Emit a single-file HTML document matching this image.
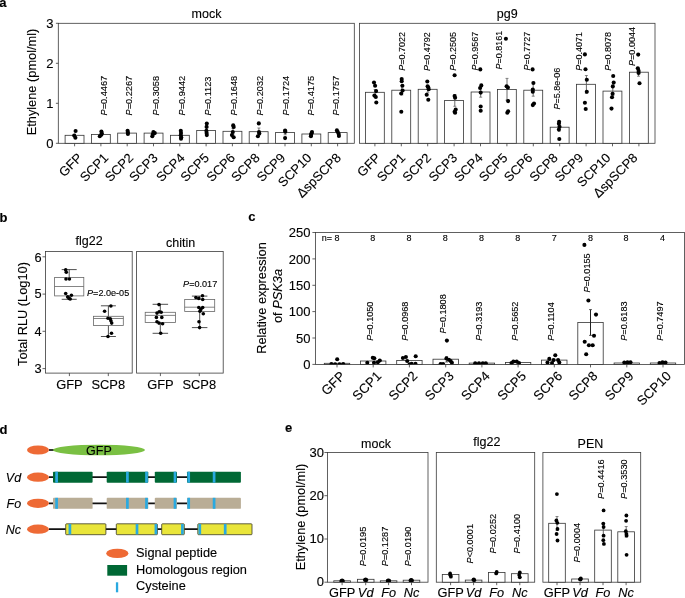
<!DOCTYPE html>
<html lang="en">
<head>
<meta charset="utf-8">
<title>Figure</title>
<style>
html,body{margin:0;padding:0;background:#fff;}
body{width:685px;height:598px;overflow:hidden;}
svg{display:block;font-family:"Liberation Sans",sans-serif;fill:#000;}
svg text{fill:#000;stroke:#000;stroke-width:0.12px;}
</style>
</head>
<body>
<svg width="685" height="598" viewBox="0 0 685 598" shape-rendering="auto">
<rect x="0" y="0" width="685" height="598" fill="#fff"/>
<text x="-0.7" y="7.0" font-size="13" text-anchor="start" font-weight="bold">a</text>
<rect x="58.3" y="23.3" width="296.0" height="120.0" fill="none" stroke="#3a3a3a" stroke-width="0.8"/>
<rect x="359.5" y="23.3" width="295.5" height="120.0" fill="none" stroke="#3a3a3a" stroke-width="0.8"/>
<line x1="55.9" y1="23.3" x2="58.3" y2="23.3" stroke="#3a3a3a" stroke-width="0.8"/>
<text x="53.6" y="27.9" font-size="13.0" text-anchor="end">3</text>
<line x1="55.9" y1="63.3" x2="58.3" y2="63.3" stroke="#3a3a3a" stroke-width="0.8"/>
<text x="53.6" y="67.9" font-size="13.0" text-anchor="end">2</text>
<line x1="55.9" y1="103.3" x2="58.3" y2="103.3" stroke="#3a3a3a" stroke-width="0.8"/>
<text x="53.6" y="107.9" font-size="13.0" text-anchor="end">1</text>
<line x1="55.9" y1="143.3" x2="58.3" y2="143.3" stroke="#3a3a3a" stroke-width="0.8"/>
<text x="53.6" y="147.9" font-size="13.0" text-anchor="end">0</text>
<text x="36.3" y="82.0" font-size="12.8" text-anchor="middle" transform="rotate(-90 36.3 82.0)">Ethylene (pmol/ml)</text>
<text x="206.5" y="18.3" font-size="12.5" text-anchor="middle">mock</text>
<text x="507.3" y="18.3" font-size="12.5" text-anchor="middle">pg9</text>
<rect x="65.1" y="135.3" width="18.9" height="8.0" fill="#fff" stroke="#333" stroke-width="0.8"/>
<line x1="74.6" y1="143.3" x2="74.6" y2="146.3" stroke="#3a3a3a" stroke-width="0.8"/>
<rect x="91.4" y="134.4" width="18.9" height="8.9" fill="#fff" stroke="#333" stroke-width="0.8"/>
<line x1="100.9" y1="143.3" x2="100.9" y2="146.3" stroke="#3a3a3a" stroke-width="0.8"/>
<rect x="117.7" y="133.1" width="18.9" height="10.2" fill="#fff" stroke="#333" stroke-width="0.8"/>
<line x1="127.2" y1="143.3" x2="127.2" y2="146.3" stroke="#3a3a3a" stroke-width="0.8"/>
<rect x="144.1" y="133.1" width="18.9" height="10.2" fill="#fff" stroke="#333" stroke-width="0.8"/>
<line x1="153.5" y1="143.3" x2="153.5" y2="146.3" stroke="#3a3a3a" stroke-width="0.8"/>
<rect x="170.4" y="135.3" width="18.9" height="8.0" fill="#fff" stroke="#333" stroke-width="0.8"/>
<line x1="179.8" y1="143.3" x2="179.8" y2="146.3" stroke="#3a3a3a" stroke-width="0.8"/>
<rect x="196.7" y="130.4" width="18.9" height="12.9" fill="#fff" stroke="#333" stroke-width="0.8"/>
<line x1="206.1" y1="143.3" x2="206.1" y2="146.3" stroke="#3a3a3a" stroke-width="0.8"/>
<rect x="223.0" y="131.3" width="18.9" height="12.0" fill="#fff" stroke="#333" stroke-width="0.8"/>
<line x1="232.4" y1="143.3" x2="232.4" y2="146.3" stroke="#3a3a3a" stroke-width="0.8"/>
<rect x="249.2" y="131.7" width="18.9" height="11.6" fill="#fff" stroke="#333" stroke-width="0.8"/>
<line x1="258.7" y1="143.3" x2="258.7" y2="146.3" stroke="#3a3a3a" stroke-width="0.8"/>
<rect x="275.6" y="132.4" width="18.9" height="10.9" fill="#fff" stroke="#333" stroke-width="0.8"/>
<line x1="285.0" y1="143.3" x2="285.0" y2="146.3" stroke="#3a3a3a" stroke-width="0.8"/>
<rect x="301.9" y="134.0" width="18.9" height="9.3" fill="#fff" stroke="#333" stroke-width="0.8"/>
<line x1="311.3" y1="143.3" x2="311.3" y2="146.3" stroke="#3a3a3a" stroke-width="0.8"/>
<rect x="328.2" y="132.6" width="18.9" height="10.7" fill="#fff" stroke="#333" stroke-width="0.8"/>
<line x1="337.6" y1="143.3" x2="337.6" y2="146.3" stroke="#3a3a3a" stroke-width="0.8"/>
<rect x="365.4" y="92.3" width="18.9" height="51.0" fill="#fff" stroke="#333" stroke-width="0.8"/>
<line x1="374.9" y1="143.3" x2="374.9" y2="146.3" stroke="#3a3a3a" stroke-width="0.8"/>
<rect x="391.8" y="90.2" width="18.9" height="53.1" fill="#fff" stroke="#333" stroke-width="0.8"/>
<line x1="401.3" y1="143.3" x2="401.3" y2="146.3" stroke="#3a3a3a" stroke-width="0.8"/>
<rect x="418.2" y="89.3" width="18.9" height="54.0" fill="#fff" stroke="#333" stroke-width="0.8"/>
<line x1="427.7" y1="143.3" x2="427.7" y2="146.3" stroke="#3a3a3a" stroke-width="0.8"/>
<rect x="444.6" y="100.4" width="18.9" height="42.9" fill="#fff" stroke="#333" stroke-width="0.8"/>
<line x1="454.1" y1="143.3" x2="454.1" y2="146.3" stroke="#3a3a3a" stroke-width="0.8"/>
<rect x="471.1" y="92.0" width="18.9" height="51.3" fill="#fff" stroke="#333" stroke-width="0.8"/>
<line x1="480.5" y1="143.3" x2="480.5" y2="146.3" stroke="#3a3a3a" stroke-width="0.8"/>
<rect x="497.4" y="89.4" width="18.9" height="53.9" fill="#fff" stroke="#333" stroke-width="0.8"/>
<line x1="506.9" y1="143.3" x2="506.9" y2="146.3" stroke="#3a3a3a" stroke-width="0.8"/>
<rect x="523.8" y="90.2" width="18.9" height="53.1" fill="#fff" stroke="#333" stroke-width="0.8"/>
<line x1="533.3" y1="143.3" x2="533.3" y2="146.3" stroke="#3a3a3a" stroke-width="0.8"/>
<rect x="550.2" y="127.2" width="18.9" height="16.1" fill="#fff" stroke="#333" stroke-width="0.8"/>
<line x1="559.7" y1="143.3" x2="559.7" y2="146.3" stroke="#3a3a3a" stroke-width="0.8"/>
<rect x="576.6" y="84.3" width="18.9" height="59.0" fill="#fff" stroke="#333" stroke-width="0.8"/>
<line x1="586.1" y1="143.3" x2="586.1" y2="146.3" stroke="#3a3a3a" stroke-width="0.8"/>
<rect x="603.0" y="91.1" width="18.9" height="52.2" fill="#fff" stroke="#333" stroke-width="0.8"/>
<line x1="612.5" y1="143.3" x2="612.5" y2="146.3" stroke="#3a3a3a" stroke-width="0.8"/>
<rect x="629.4" y="72.2" width="18.9" height="71.1" fill="#fff" stroke="#333" stroke-width="0.8"/>
<line x1="638.9" y1="143.3" x2="638.9" y2="146.3" stroke="#3a3a3a" stroke-width="0.8"/>
<text x="83.1" y="158.6" font-size="13.0" text-anchor="end" transform="rotate(-45 83.1 158.6)">GFP</text>
<text x="109.2" y="158.6" font-size="13.0" text-anchor="end" transform="rotate(-45 109.2 158.6)">SCP1</text>
<text x="134.2" y="158.6" font-size="13.0" text-anchor="end" transform="rotate(-45 134.2 158.6)">SCP2</text>
<text x="158.5" y="158.6" font-size="13.0" text-anchor="end" transform="rotate(-45 158.5 158.6)">SCP3</text>
<text x="185.5" y="158.6" font-size="13.0" text-anchor="end" transform="rotate(-45 185.5 158.6)">SCP4</text>
<text x="209.8" y="158.6" font-size="13.0" text-anchor="end" transform="rotate(-45 209.8 158.6)">SCP5</text>
<text x="235.9" y="158.6" font-size="13.0" text-anchor="end" transform="rotate(-45 235.9 158.6)">SCP6</text>
<text x="260.5" y="158.6" font-size="13.0" text-anchor="end" transform="rotate(-45 260.5 158.6)">SCP8</text>
<text x="286.1" y="158.6" font-size="13.0" text-anchor="end" transform="rotate(-45 286.1 158.6)">SCP9</text>
<text x="312.4" y="158.6" font-size="13.0" text-anchor="end" transform="rotate(-45 312.4 158.6)">SCP10</text>
<text x="341.8" y="158.6" font-size="13.0" text-anchor="end" transform="rotate(-45 341.8 158.6)">ΔspSCP8</text>
<text x="381.4" y="158.6" font-size="13.0" text-anchor="end" transform="rotate(-45 381.4 158.6)">GFP</text>
<text x="406.2" y="158.6" font-size="13.0" text-anchor="end" transform="rotate(-45 406.2 158.6)">SCP1</text>
<text x="431.9" y="158.6" font-size="13.0" text-anchor="end" transform="rotate(-45 431.9 158.6)">SCP2</text>
<text x="458.0" y="158.6" font-size="13.0" text-anchor="end" transform="rotate(-45 458.0 158.6)">SCP3</text>
<text x="483.5" y="158.6" font-size="13.0" text-anchor="end" transform="rotate(-45 483.5 158.6)">SCP4</text>
<text x="508.4" y="158.6" font-size="13.0" text-anchor="end" transform="rotate(-45 508.4 158.6)">SCP5</text>
<text x="533.3" y="158.6" font-size="13.0" text-anchor="end" transform="rotate(-45 533.3 158.6)">SCP6</text>
<text x="558.7" y="158.6" font-size="13.0" text-anchor="end" transform="rotate(-45 558.7 158.6)">SCP8</text>
<text x="584.0" y="158.6" font-size="13.0" text-anchor="end" transform="rotate(-45 584.0 158.6)">SCP9</text>
<text x="611.5" y="158.6" font-size="13.0" text-anchor="end" transform="rotate(-45 611.5 158.6)">SCP10</text>
<text x="638.4" y="158.6" font-size="13.0" text-anchor="end" transform="rotate(-45 638.4 158.6)">ΔspSCP8</text>
<line x1="75.0" y1="133.5" x2="75.0" y2="137.0" stroke="#5a5a5a" stroke-width="0.9"/>
<line x1="101.2" y1="132.8" x2="101.2" y2="136.0" stroke="#5a5a5a" stroke-width="0.9"/>
<line x1="127.6" y1="132.0" x2="127.6" y2="134.2" stroke="#5a5a5a" stroke-width="0.9"/>
<line x1="153.5" y1="132.0" x2="153.5" y2="134.4" stroke="#5a5a5a" stroke-width="0.9"/>
<line x1="180.8" y1="133.3" x2="180.8" y2="137.3" stroke="#5a5a5a" stroke-width="0.9"/>
<line x1="179.3" y1="133.3" x2="182.3" y2="133.3" stroke="#5a5a5a" stroke-width="0.7"/>
<line x1="179.3" y1="137.3" x2="182.3" y2="137.3" stroke="#5a5a5a" stroke-width="0.7"/>
<line x1="206.6" y1="127.5" x2="206.6" y2="133.3" stroke="#5a5a5a" stroke-width="0.9"/>
<line x1="205.1" y1="127.5" x2="208.1" y2="127.5" stroke="#5a5a5a" stroke-width="0.7"/>
<line x1="205.1" y1="133.3" x2="208.1" y2="133.3" stroke="#5a5a5a" stroke-width="0.7"/>
<line x1="233.0" y1="128.5" x2="233.0" y2="134.1" stroke="#5a5a5a" stroke-width="0.9"/>
<line x1="231.5" y1="128.5" x2="234.5" y2="128.5" stroke="#5a5a5a" stroke-width="0.7"/>
<line x1="231.5" y1="134.1" x2="234.5" y2="134.1" stroke="#5a5a5a" stroke-width="0.7"/>
<line x1="258.9" y1="128.0" x2="258.9" y2="135.4" stroke="#5a5a5a" stroke-width="0.9"/>
<line x1="257.4" y1="128.0" x2="260.4" y2="128.0" stroke="#5a5a5a" stroke-width="0.7"/>
<line x1="257.4" y1="135.4" x2="260.4" y2="135.4" stroke="#5a5a5a" stroke-width="0.7"/>
<line x1="285.2" y1="130.0" x2="285.2" y2="134.8" stroke="#5a5a5a" stroke-width="0.9"/>
<line x1="283.7" y1="130.0" x2="286.7" y2="130.0" stroke="#5a5a5a" stroke-width="0.7"/>
<line x1="283.7" y1="134.8" x2="286.7" y2="134.8" stroke="#5a5a5a" stroke-width="0.7"/>
<line x1="311.6" y1="133.0" x2="311.6" y2="135.0" stroke="#5a5a5a" stroke-width="0.9"/>
<line x1="338.0" y1="131.3" x2="338.0" y2="133.9" stroke="#5a5a5a" stroke-width="0.9"/>
<line x1="375.2" y1="89.5" x2="375.2" y2="95.1" stroke="#5a5a5a" stroke-width="0.9"/>
<line x1="373.7" y1="89.5" x2="376.7" y2="89.5" stroke="#5a5a5a" stroke-width="0.7"/>
<line x1="373.7" y1="95.1" x2="376.7" y2="95.1" stroke="#5a5a5a" stroke-width="0.7"/>
<line x1="401.8" y1="85.5" x2="401.8" y2="94.9" stroke="#5a5a5a" stroke-width="0.9"/>
<line x1="400.3" y1="85.5" x2="403.3" y2="85.5" stroke="#5a5a5a" stroke-width="0.7"/>
<line x1="400.3" y1="94.9" x2="403.3" y2="94.9" stroke="#5a5a5a" stroke-width="0.7"/>
<line x1="427.8" y1="86.3" x2="427.8" y2="92.3" stroke="#5a5a5a" stroke-width="0.9"/>
<line x1="426.3" y1="86.3" x2="429.3" y2="86.3" stroke="#5a5a5a" stroke-width="0.7"/>
<line x1="426.3" y1="92.3" x2="429.3" y2="92.3" stroke="#5a5a5a" stroke-width="0.7"/>
<line x1="454.8" y1="94.5" x2="454.8" y2="106.3" stroke="#5a5a5a" stroke-width="0.9"/>
<line x1="453.3" y1="94.5" x2="456.3" y2="94.5" stroke="#5a5a5a" stroke-width="0.7"/>
<line x1="453.3" y1="106.3" x2="456.3" y2="106.3" stroke="#5a5a5a" stroke-width="0.7"/>
<line x1="480.7" y1="87.2" x2="480.7" y2="97.2" stroke="#5a5a5a" stroke-width="0.9"/>
<line x1="479.2" y1="87.2" x2="482.2" y2="87.2" stroke="#5a5a5a" stroke-width="0.7"/>
<line x1="479.2" y1="97.2" x2="482.2" y2="97.2" stroke="#5a5a5a" stroke-width="0.7"/>
<line x1="507.0" y1="78.4" x2="507.0" y2="100.2" stroke="#5a5a5a" stroke-width="0.9"/>
<line x1="505.5" y1="78.4" x2="508.5" y2="78.4" stroke="#5a5a5a" stroke-width="0.7"/>
<line x1="505.5" y1="100.2" x2="508.5" y2="100.2" stroke="#5a5a5a" stroke-width="0.7"/>
<line x1="533.2" y1="82.2" x2="533.2" y2="96.2" stroke="#5a5a5a" stroke-width="0.9"/>
<line x1="531.7" y1="82.2" x2="534.7" y2="82.2" stroke="#5a5a5a" stroke-width="0.7"/>
<line x1="531.7" y1="96.2" x2="534.7" y2="96.2" stroke="#5a5a5a" stroke-width="0.7"/>
<line x1="559.2" y1="123.3" x2="559.2" y2="131.1" stroke="#5a5a5a" stroke-width="0.9"/>
<line x1="557.7" y1="123.3" x2="560.7" y2="123.3" stroke="#5a5a5a" stroke-width="0.7"/>
<line x1="557.7" y1="131.1" x2="560.7" y2="131.1" stroke="#5a5a5a" stroke-width="0.7"/>
<line x1="586.4" y1="75.5" x2="586.4" y2="93.3" stroke="#5a5a5a" stroke-width="0.9"/>
<line x1="584.9" y1="75.5" x2="587.9" y2="75.5" stroke="#5a5a5a" stroke-width="0.7"/>
<line x1="584.9" y1="93.3" x2="587.9" y2="93.3" stroke="#5a5a5a" stroke-width="0.7"/>
<line x1="612.8" y1="86.5" x2="612.8" y2="95.7" stroke="#5a5a5a" stroke-width="0.9"/>
<line x1="611.3" y1="86.5" x2="614.3" y2="86.5" stroke="#5a5a5a" stroke-width="0.7"/>
<line x1="611.3" y1="95.7" x2="614.3" y2="95.7" stroke="#5a5a5a" stroke-width="0.7"/>
<line x1="638.5" y1="68.2" x2="638.5" y2="76.2" stroke="#5a5a5a" stroke-width="0.9"/>
<line x1="637.0" y1="68.2" x2="640.0" y2="68.2" stroke="#5a5a5a" stroke-width="0.7"/>
<line x1="637.0" y1="76.2" x2="640.0" y2="76.2" stroke="#5a5a5a" stroke-width="0.7"/>
<circle cx="75.6" cy="131.0" r="2.05"/>
<circle cx="74.2" cy="135.6" r="2.05"/>
<circle cx="75.4" cy="137.8" r="2.05"/>
<circle cx="101.4" cy="131.5" r="2.05"/>
<circle cx="101.8" cy="133.3" r="2.05"/>
<circle cx="101.4" cy="134.7" r="2.05"/>
<circle cx="99.8" cy="136.2" r="2.05"/>
<circle cx="127.6" cy="130.8" r="2.05"/>
<circle cx="127.9" cy="132.6" r="2.05"/>
<circle cx="127.9" cy="134.0" r="2.05"/>
<circle cx="153.4" cy="132.0" r="2.05"/>
<circle cx="154.8" cy="133.1" r="2.05"/>
<circle cx="152.8" cy="134.4" r="2.05"/>
<circle cx="152.3" cy="136.2" r="2.05"/>
<circle cx="180.8" cy="130.8" r="2.05"/>
<circle cx="181.0" cy="133.1" r="2.05"/>
<circle cx="180.8" cy="135.3" r="2.05"/>
<circle cx="181.2" cy="137.2" r="2.05"/>
<circle cx="181.0" cy="138.7" r="2.05"/>
<circle cx="206.8" cy="123.6" r="2.05"/>
<circle cx="206.6" cy="126.9" r="2.05"/>
<circle cx="206.4" cy="130.8" r="2.05"/>
<circle cx="206.6" cy="132.9" r="2.05"/>
<circle cx="206.8" cy="135.1" r="2.05"/>
<circle cx="233.2" cy="125.4" r="2.05"/>
<circle cx="233.7" cy="127.0" r="2.05"/>
<circle cx="232.8" cy="132.0" r="2.05"/>
<circle cx="231.9" cy="135.1" r="2.05"/>
<circle cx="233.7" cy="137.2" r="2.05"/>
<circle cx="258.8" cy="123.4" r="2.05"/>
<circle cx="259.0" cy="132.0" r="2.05"/>
<circle cx="259.3" cy="133.5" r="2.05"/>
<circle cx="257.9" cy="136.3" r="2.05"/>
<circle cx="285.1" cy="130.6" r="2.05"/>
<circle cx="285.3" cy="131.7" r="2.05"/>
<circle cx="285.1" cy="138.1" r="2.05"/>
<circle cx="312.0" cy="132.0" r="2.05"/>
<circle cx="311.5" cy="133.3" r="2.05"/>
<circle cx="311.1" cy="134.9" r="2.05"/>
<circle cx="310.9" cy="136.3" r="2.05"/>
<circle cx="336.9" cy="130.4" r="2.05"/>
<circle cx="337.8" cy="132.0" r="2.05"/>
<circle cx="338.7" cy="134.0" r="2.05"/>
<circle cx="338.9" cy="136.0" r="2.05"/>
<circle cx="374.0" cy="82.5" r="2.05"/>
<circle cx="375.1" cy="85.8" r="2.05"/>
<circle cx="376.1" cy="91.1" r="2.05"/>
<circle cx="374.4" cy="95.6" r="2.05"/>
<circle cx="375.8" cy="97.0" r="2.05"/>
<circle cx="376.3" cy="102.5" r="2.05"/>
<circle cx="401.7" cy="79.0" r="2.05"/>
<circle cx="401.7" cy="81.3" r="2.05"/>
<circle cx="402.4" cy="85.8" r="2.05"/>
<circle cx="402.6" cy="90.6" r="2.05"/>
<circle cx="401.2" cy="93.5" r="2.05"/>
<circle cx="401.3" cy="111.8" r="2.05"/>
<circle cx="427.3" cy="81.5" r="2.05"/>
<circle cx="427.6" cy="86.2" r="2.05"/>
<circle cx="428.3" cy="87.6" r="2.05"/>
<circle cx="428.7" cy="89.2" r="2.05"/>
<circle cx="426.7" cy="94.8" r="2.05"/>
<circle cx="428.3" cy="99.7" r="2.05"/>
<circle cx="454.6" cy="75.3" r="2.05"/>
<circle cx="454.6" cy="96.0" r="2.05"/>
<circle cx="455.1" cy="97.7" r="2.05"/>
<circle cx="455.7" cy="109.5" r="2.05"/>
<circle cx="454.6" cy="111.8" r="2.05"/>
<circle cx="455.1" cy="112.8" r="2.05"/>
<circle cx="480.3" cy="69.4" r="2.05"/>
<circle cx="481.3" cy="85.4" r="2.05"/>
<circle cx="480.1" cy="88.0" r="2.05"/>
<circle cx="480.7" cy="92.6" r="2.05"/>
<circle cx="480.7" cy="106.5" r="2.05"/>
<circle cx="480.7" cy="110.7" r="2.05"/>
<circle cx="505.9" cy="38.8" r="2.05"/>
<circle cx="506.6" cy="86.3" r="2.05"/>
<circle cx="507.9" cy="87.6" r="2.05"/>
<circle cx="508.1" cy="101.1" r="2.05"/>
<circle cx="508.1" cy="111.3" r="2.05"/>
<circle cx="507.3" cy="112.7" r="2.05"/>
<circle cx="532.6" cy="69.4" r="2.05"/>
<circle cx="533.4" cy="83.0" r="2.05"/>
<circle cx="532.8" cy="89.6" r="2.05"/>
<circle cx="532.8" cy="91.8" r="2.05"/>
<circle cx="534.0" cy="103.5" r="2.05"/>
<circle cx="532.8" cy="105.1" r="2.05"/>
<circle cx="559.1" cy="121.7" r="2.05"/>
<circle cx="558.9" cy="123.7" r="2.05"/>
<circle cx="559.5" cy="126.7" r="2.05"/>
<circle cx="558.9" cy="129.6" r="2.05"/>
<circle cx="559.3" cy="139.0" r="2.05"/>
<circle cx="584.9" cy="54.4" r="2.05"/>
<circle cx="585.5" cy="69.2" r="2.05"/>
<circle cx="586.8" cy="79.8" r="2.05"/>
<circle cx="586.8" cy="91.7" r="2.05"/>
<circle cx="584.9" cy="102.7" r="2.05"/>
<circle cx="585.7" cy="109.0" r="2.05"/>
<circle cx="613.2" cy="76.0" r="2.05"/>
<circle cx="613.7" cy="82.6" r="2.05"/>
<circle cx="612.8" cy="86.4" r="2.05"/>
<circle cx="612.6" cy="93.8" r="2.05"/>
<circle cx="612.0" cy="97.2" r="2.05"/>
<circle cx="611.5" cy="108.6" r="2.05"/>
<circle cx="638.2" cy="54.6" r="2.05"/>
<circle cx="637.8" cy="68.2" r="2.05"/>
<circle cx="638.6" cy="70.9" r="2.05"/>
<circle cx="638.6" cy="73.0" r="2.05"/>
<circle cx="639.5" cy="83.2" r="2.05"/>
<text x="106.6" y="115.5" font-size="9.2" transform="rotate(-90 106.6 115.5)"><tspan font-style="italic">P</tspan>=0.4467</text>
<text x="132.3" y="115.5" font-size="9.2" transform="rotate(-90 132.3 115.5)"><tspan font-style="italic">P</tspan>=0.2267</text>
<text x="158.7" y="115.5" font-size="9.2" transform="rotate(-90 158.7 115.5)"><tspan font-style="italic">P</tspan>=0.3058</text>
<text x="184.9" y="115.5" font-size="9.2" transform="rotate(-90 184.9 115.5)"><tspan font-style="italic">P</tspan>=0.9442</text>
<text x="210.9" y="115.5" font-size="9.2" transform="rotate(-90 210.9 115.5)"><tspan font-style="italic">P</tspan>=0.1123</text>
<text x="236.5" y="115.5" font-size="9.2" transform="rotate(-90 236.5 115.5)"><tspan font-style="italic">P</tspan>=0.1648</text>
<text x="262.9" y="115.5" font-size="9.2" transform="rotate(-90 262.9 115.5)"><tspan font-style="italic">P</tspan>=0.2032</text>
<text x="289.0" y="115.5" font-size="9.2" transform="rotate(-90 289.0 115.5)"><tspan font-style="italic">P</tspan>=0.1724</text>
<text x="314.0" y="115.5" font-size="9.2" transform="rotate(-90 314.0 115.5)"><tspan font-style="italic">P</tspan>=0.4175</text>
<text x="338.6" y="115.5" font-size="9.2" transform="rotate(-90 338.6 115.5)"><tspan font-style="italic">P</tspan>=0.1757</text>
<text x="405.0" y="70.7" font-size="9.0" transform="rotate(-90 405.0 70.7)"><tspan font-style="italic">P</tspan>=0.7022</text>
<text x="429.8" y="71.1" font-size="9.0" transform="rotate(-90 429.8 71.1)"><tspan font-style="italic">P</tspan>=0.4792</text>
<text x="456.1" y="70.7" font-size="9.0" transform="rotate(-90 456.1 70.7)"><tspan font-style="italic">P</tspan>=0.2505</text>
<text x="477.9" y="70.5" font-size="9.0" transform="rotate(-90 477.9 70.5)"><tspan font-style="italic">P</tspan>=0.9567</text>
<text x="502.3" y="69.6" font-size="9.0" transform="rotate(-90 502.3 69.6)"><tspan font-style="italic">P</tspan>=0.8161</text>
<text x="529.9" y="70.5" font-size="9.0" transform="rotate(-90 529.9 70.5)"><tspan font-style="italic">P</tspan>=0.7727</text>
<text x="560.1" y="109.6" font-size="9.0" transform="rotate(-90 560.1 109.6)"><tspan font-style="italic">P</tspan>=5.8e-06</text>
<text x="581.8" y="70.8" font-size="9.0" transform="rotate(-90 581.8 70.8)"><tspan font-style="italic">P</tspan>=0.4071</text>
<text x="611.2" y="70.8" font-size="9.0" transform="rotate(-90 611.2 70.8)"><tspan font-style="italic">P</tspan>=0.8078</text>
<text x="635.0" y="65.9" font-size="9.0" transform="rotate(-90 635.0 65.9)"><tspan font-style="italic">P</tspan>=0.0044</text>
<text x="-0.4" y="221.7" font-size="13" text-anchor="start" font-weight="bold">b</text>
<rect x="45.5" y="251.4" width="86.7" height="121.7" fill="none" stroke="#3a3a3a" stroke-width="0.8"/>
<rect x="136.6" y="251.4" width="86.6" height="121.7" fill="none" stroke="#3a3a3a" stroke-width="0.8"/>
<line x1="42.5" y1="256.8" x2="45.5" y2="256.8" stroke="#3a3a3a" stroke-width="0.8"/>
<text x="41.6" y="261.7" font-size="12.8" text-anchor="end">6</text>
<line x1="42.5" y1="294.1" x2="45.5" y2="294.1" stroke="#3a3a3a" stroke-width="0.8"/>
<text x="41.6" y="298.4" font-size="12.8" text-anchor="end">5</text>
<line x1="42.5" y1="331.3" x2="45.5" y2="331.3" stroke="#3a3a3a" stroke-width="0.8"/>
<text x="41.6" y="336.1" font-size="12.8" text-anchor="end">4</text>
<line x1="42.5" y1="368.6" x2="45.5" y2="368.6" stroke="#3a3a3a" stroke-width="0.8"/>
<text x="41.6" y="372.9" font-size="12.8" text-anchor="end">3</text>
<text x="27.4" y="314.0" font-size="12.8" text-anchor="middle" transform="rotate(-90 27.4 314.0)">Total RLU (Log10)</text>
<text x="89.1" y="245.4" font-size="12.5" text-anchor="middle">flg22</text>
<text x="180.6" y="246.9" font-size="12.5" text-anchor="middle">chitin</text>
<line x1="69.4" y1="373.1" x2="69.4" y2="376.1" stroke="#3a3a3a" stroke-width="0.8"/>
<text x="69.4" y="389.2" font-size="12.9" text-anchor="middle">GFP</text>
<line x1="108.3" y1="373.1" x2="108.3" y2="376.1" stroke="#3a3a3a" stroke-width="0.8"/>
<text x="108.3" y="389.2" font-size="12.9" text-anchor="middle">SCP8</text>
<line x1="160.4" y1="373.1" x2="160.4" y2="376.1" stroke="#3a3a3a" stroke-width="0.8"/>
<text x="160.4" y="389.2" font-size="12.9" text-anchor="middle">GFP</text>
<line x1="199.3" y1="373.1" x2="199.3" y2="376.1" stroke="#3a3a3a" stroke-width="0.8"/>
<text x="199.3" y="389.2" font-size="12.9" text-anchor="middle">SCP8</text>
<line x1="69.2" y1="269.6" x2="69.2" y2="277.4" stroke="#222" stroke-width="0.8"/>
<line x1="69.2" y1="295.9" x2="69.2" y2="299.3" stroke="#222" stroke-width="0.8"/>
<line x1="61.7" y1="269.6" x2="76.7" y2="269.6" stroke="#222" stroke-width="0.8"/>
<line x1="61.7" y1="299.3" x2="76.7" y2="299.3" stroke="#222" stroke-width="0.8"/>
<rect x="54.6" y="277.4" width="29.2" height="18.5" fill="#fff" stroke="#666" stroke-width="0.8"/>
<line x1="54.6" y1="286.5" x2="83.8" y2="286.5" stroke="#666" stroke-width="0.8"/>
<line x1="108.4" y1="305.8" x2="108.4" y2="316.3" stroke="#222" stroke-width="0.8"/>
<line x1="108.4" y1="325.4" x2="108.4" y2="336.5" stroke="#222" stroke-width="0.8"/>
<line x1="100.9" y1="305.8" x2="115.9" y2="305.8" stroke="#222" stroke-width="0.8"/>
<line x1="100.9" y1="336.5" x2="115.9" y2="336.5" stroke="#222" stroke-width="0.8"/>
<rect x="93.5" y="316.3" width="29.8" height="9.1" fill="#fff" stroke="#666" stroke-width="0.8"/>
<line x1="93.5" y1="318.5" x2="123.3" y2="318.5" stroke="#666" stroke-width="0.8"/>
<line x1="160.3" y1="304.3" x2="160.3" y2="312.3" stroke="#222" stroke-width="0.8"/>
<line x1="160.3" y1="322.5" x2="160.3" y2="333.3" stroke="#222" stroke-width="0.8"/>
<line x1="152.6" y1="304.3" x2="168.1" y2="304.3" stroke="#222" stroke-width="0.8"/>
<line x1="152.6" y1="333.3" x2="168.1" y2="333.3" stroke="#222" stroke-width="0.8"/>
<rect x="145.2" y="312.3" width="30.2" height="10.2" fill="#fff" stroke="#666" stroke-width="0.8"/>
<line x1="145.2" y1="315.4" x2="175.4" y2="315.4" stroke="#666" stroke-width="0.8"/>
<line x1="199.7" y1="296.1" x2="199.7" y2="299.5" stroke="#222" stroke-width="0.8"/>
<line x1="199.7" y1="311.4" x2="199.7" y2="327.6" stroke="#222" stroke-width="0.8"/>
<line x1="191.9" y1="296.1" x2="207.4" y2="296.1" stroke="#222" stroke-width="0.8"/>
<line x1="191.9" y1="327.6" x2="207.4" y2="327.6" stroke="#222" stroke-width="0.8"/>
<rect x="184.7" y="299.5" width="30.0" height="11.9" fill="#fff" stroke="#666" stroke-width="0.8"/>
<line x1="184.7" y1="307.2" x2="214.7" y2="307.2" stroke="#666" stroke-width="0.8"/>
<circle cx="65.7" cy="269.9" r="1.8"/>
<circle cx="66.3" cy="272.2" r="1.8"/>
<circle cx="66.0" cy="279.0" r="1.8"/>
<circle cx="69.4" cy="279.0" r="1.8"/>
<circle cx="65.7" cy="293.5" r="1.8"/>
<circle cx="71.4" cy="295.2" r="1.8"/>
<circle cx="67.7" cy="296.9" r="1.8"/>
<circle cx="69.1" cy="298.4" r="1.8"/>
<circle cx="70.2" cy="299.0" r="1.8"/>
<circle cx="110.9" cy="306.0" r="1.8"/>
<circle cx="104.6" cy="311.2" r="1.8"/>
<circle cx="108.0" cy="318.3" r="1.8"/>
<circle cx="110.3" cy="318.8" r="1.8"/>
<circle cx="110.9" cy="320.8" r="1.8"/>
<circle cx="111.7" cy="323.1" r="1.8"/>
<circle cx="111.5" cy="333.3" r="1.8"/>
<circle cx="108.0" cy="336.5" r="1.8"/>
<circle cx="159.0" cy="304.6" r="1.8"/>
<circle cx="159.2" cy="311.7" r="1.8"/>
<circle cx="157.0" cy="313.1" r="1.8"/>
<circle cx="161.2" cy="312.3" r="1.8"/>
<circle cx="156.4" cy="317.4" r="1.8"/>
<circle cx="161.8" cy="317.4" r="1.8"/>
<circle cx="157.0" cy="321.7" r="1.8"/>
<circle cx="159.0" cy="323.1" r="1.8"/>
<circle cx="162.6" cy="323.7" r="1.8"/>
<circle cx="160.7" cy="333.3" r="1.8"/>
<circle cx="202.5" cy="295.8" r="1.8"/>
<circle cx="195.9" cy="297.5" r="1.8"/>
<circle cx="198.8" cy="298.4" r="1.8"/>
<circle cx="202.7" cy="299.5" r="1.8"/>
<circle cx="198.8" cy="307.5" r="1.8"/>
<circle cx="202.7" cy="307.5" r="1.8"/>
<circle cx="200.8" cy="309.4" r="1.8"/>
<circle cx="199.9" cy="311.2" r="1.8"/>
<circle cx="203.3" cy="313.7" r="1.8"/>
<circle cx="199.0" cy="321.7" r="1.8"/>
<circle cx="199.6" cy="327.6" r="1.8"/>
<text x="87.0" y="295.8" font-size="9.1"><tspan font-style="italic">P</tspan>=2.0e-05</text>
<text x="183.1" y="286.8" font-size="9.1"><tspan font-style="italic">P</tspan>=0.017</text>
<text x="248.3" y="221.4" font-size="13" text-anchor="start" font-weight="bold">c</text>
<rect x="315.4" y="232.5" width="369.1" height="131.9" fill="none" stroke="#3a3a3a" stroke-width="0.8"/>
<line x1="312.4" y1="232.5" x2="315.4" y2="232.5" stroke="#3a3a3a" stroke-width="0.8"/>
<text x="310.5" y="237.1" font-size="13.0" text-anchor="end">250</text>
<line x1="312.4" y1="258.9" x2="315.4" y2="258.9" stroke="#3a3a3a" stroke-width="0.8"/>
<text x="310.5" y="263.5" font-size="13.0" text-anchor="end">200</text>
<line x1="312.4" y1="285.3" x2="315.4" y2="285.3" stroke="#3a3a3a" stroke-width="0.8"/>
<text x="310.5" y="289.9" font-size="13.0" text-anchor="end">150</text>
<line x1="312.4" y1="311.6" x2="315.4" y2="311.6" stroke="#3a3a3a" stroke-width="0.8"/>
<text x="310.5" y="316.2" font-size="13.0" text-anchor="end">100</text>
<line x1="312.4" y1="338.0" x2="315.4" y2="338.0" stroke="#3a3a3a" stroke-width="0.8"/>
<text x="310.5" y="342.6" font-size="13.0" text-anchor="end">50</text>
<line x1="312.4" y1="364.4" x2="315.4" y2="364.4" stroke="#3a3a3a" stroke-width="0.8"/>
<text x="310.5" y="369.0" font-size="13.0" text-anchor="end">0</text>
<text x="266.0" y="298.0" font-size="12.8" text-anchor="middle" transform="rotate(-90 266.0 298.0)">Relative expression</text>
<text x="281.5" y="296" font-size="12.8" text-anchor="middle" transform="rotate(-90 281.5 296)">of <tspan font-style="italic">PSK3a</tspan></text>
<rect x="324.3" y="363.3" width="25.4" height="1.1" fill="#fff" stroke="#333" stroke-width="0.8"/>
<line x1="337.0" y1="364.4" x2="337.0" y2="367.4" stroke="#3a3a3a" stroke-width="0.8"/>
<text x="345.9" y="376.8" font-size="13.2" text-anchor="end" transform="rotate(-45 345.9 376.8)">GFP</text>
<rect x="360.5" y="361.0" width="25.4" height="3.4" fill="#fff" stroke="#333" stroke-width="0.8"/>
<line x1="373.2" y1="364.4" x2="373.2" y2="367.4" stroke="#3a3a3a" stroke-width="0.8"/>
<text x="382.1" y="376.8" font-size="13.2" text-anchor="end" transform="rotate(-45 382.1 376.8)">SCP1</text>
<rect x="396.7" y="360.5" width="25.4" height="3.9" fill="#fff" stroke="#333" stroke-width="0.8"/>
<line x1="409.4" y1="364.4" x2="409.4" y2="367.4" stroke="#3a3a3a" stroke-width="0.8"/>
<text x="418.3" y="376.8" font-size="13.2" text-anchor="end" transform="rotate(-45 418.3 376.8)">SCP2</text>
<rect x="433.0" y="359.2" width="25.4" height="5.2" fill="#fff" stroke="#333" stroke-width="0.8"/>
<line x1="445.7" y1="364.4" x2="445.7" y2="367.4" stroke="#3a3a3a" stroke-width="0.8"/>
<text x="454.6" y="376.8" font-size="13.2" text-anchor="end" transform="rotate(-45 454.6 376.8)">SCP3</text>
<rect x="469.2" y="363.1" width="25.4" height="1.3" fill="#fff" stroke="#333" stroke-width="0.8"/>
<line x1="481.9" y1="364.4" x2="481.9" y2="367.4" stroke="#3a3a3a" stroke-width="0.8"/>
<text x="490.8" y="376.8" font-size="13.2" text-anchor="end" transform="rotate(-45 490.8 376.8)">SCP4</text>
<rect x="505.4" y="362.4" width="25.4" height="2.0" fill="#fff" stroke="#333" stroke-width="0.8"/>
<line x1="518.1" y1="364.4" x2="518.1" y2="367.4" stroke="#3a3a3a" stroke-width="0.8"/>
<text x="527.0" y="376.8" font-size="13.2" text-anchor="end" transform="rotate(-45 527.0 376.8)">SCP5</text>
<rect x="541.6" y="360.1" width="25.4" height="4.3" fill="#fff" stroke="#333" stroke-width="0.8"/>
<line x1="554.3" y1="364.4" x2="554.3" y2="367.4" stroke="#3a3a3a" stroke-width="0.8"/>
<text x="563.2" y="376.8" font-size="13.2" text-anchor="end" transform="rotate(-45 563.2 376.8)">SCP6</text>
<rect x="577.8" y="322.5" width="25.4" height="41.9" fill="#fff" stroke="#333" stroke-width="0.8"/>
<line x1="590.5" y1="364.4" x2="590.5" y2="367.4" stroke="#3a3a3a" stroke-width="0.8"/>
<text x="598.4" y="376.8" font-size="13.2" text-anchor="end" transform="rotate(-45 598.4 376.8)">SCP8</text>
<rect x="614.1" y="363.0" width="25.4" height="1.4" fill="#fff" stroke="#333" stroke-width="0.8"/>
<line x1="626.8" y1="364.4" x2="626.8" y2="367.4" stroke="#3a3a3a" stroke-width="0.8"/>
<text x="634.5" y="376.8" font-size="13.2" text-anchor="end" transform="rotate(-45 634.5 376.8)">SCP9</text>
<rect x="650.3" y="363.0" width="25.4" height="1.4" fill="#fff" stroke="#333" stroke-width="0.8"/>
<line x1="663.0" y1="364.4" x2="663.0" y2="367.4" stroke="#3a3a3a" stroke-width="0.8"/>
<text x="671.9" y="376.8" font-size="13.2" text-anchor="end" transform="rotate(-45 671.9 376.8)">SCP10</text>
<clipPath id="cc"><rect x="315" y="232" width="369" height="132.3"/></clipPath><g clip-path="url(#cc)">
<line x1="590.5" y1="309.6" x2="590.5" y2="335.4" stroke="#222" stroke-width="1.0"/>
<line x1="589.0" y1="309.6" x2="592.0" y2="309.6" stroke="#222" stroke-width="0.7"/>
<line x1="589.0" y1="335.4" x2="592.0" y2="335.4" stroke="#222" stroke-width="0.7"/>
<line x1="446.6" y1="356.5" x2="446.6" y2="362.0" stroke="#333" stroke-width="0.8"/>
<line x1="445.1" y1="356.5" x2="448.1" y2="356.5" stroke="#333" stroke-width="0.7"/>
<line x1="445.1" y1="362.0" x2="448.1" y2="362.0" stroke="#333" stroke-width="0.7"/>
<circle cx="337.2" cy="359.2" r="2.05"/>
<circle cx="331.4" cy="364.0" r="2.05"/>
<circle cx="335.1" cy="364.2" r="2.05"/>
<circle cx="343.2" cy="364.0" r="2.05"/>
<circle cx="339.5" cy="364.3" r="2.05"/>
<circle cx="372.8" cy="357.7" r="2.05"/>
<circle cx="374.3" cy="358.2" r="2.05"/>
<circle cx="379.8" cy="360.5" r="2.05"/>
<circle cx="377.8" cy="362.3" r="2.05"/>
<circle cx="367.3" cy="362.8" r="2.05"/>
<circle cx="374.0" cy="362.8" r="2.05"/>
<circle cx="402.9" cy="358.0" r="2.05"/>
<circle cx="405.9" cy="357.0" r="2.05"/>
<circle cx="415.7" cy="356.2" r="2.05"/>
<circle cx="407.2" cy="361.0" r="2.05"/>
<circle cx="411.7" cy="363.9" r="2.05"/>
<circle cx="415.5" cy="363.9" r="2.05"/>
<circle cx="409.5" cy="364.2" r="2.05"/>
<circle cx="446.9" cy="340.6" r="2.05"/>
<circle cx="446.4" cy="358.5" r="2.05"/>
<circle cx="448.9" cy="359.7" r="2.05"/>
<circle cx="450.6" cy="361.0" r="2.05"/>
<circle cx="451.9" cy="362.8" r="2.05"/>
<circle cx="440.6" cy="364.0" r="2.05"/>
<circle cx="443.1" cy="364.0" r="2.05"/>
<circle cx="475.2" cy="363.4" r="2.05"/>
<circle cx="479.0" cy="363.4" r="2.05"/>
<circle cx="482.8" cy="363.4" r="2.05"/>
<circle cx="485.8" cy="363.2" r="2.05"/>
<circle cx="513.4" cy="361.6" r="2.05"/>
<circle cx="516.7" cy="361.6" r="2.05"/>
<circle cx="511.5" cy="363.0" r="2.05"/>
<circle cx="519.0" cy="363.0" r="2.05"/>
<circle cx="555.3" cy="355.3" r="2.05"/>
<circle cx="549.3" cy="358.9" r="2.05"/>
<circle cx="553.6" cy="360.1" r="2.05"/>
<circle cx="558.1" cy="360.1" r="2.05"/>
<circle cx="547.5" cy="362.6" r="2.05"/>
<circle cx="559.3" cy="362.6" r="2.05"/>
<circle cx="552.0" cy="363.0" r="2.05"/>
<circle cx="584.4" cy="244.9" r="2.05"/>
<circle cx="588.4" cy="300.5" r="2.05"/>
<circle cx="596.0" cy="314.6" r="2.05"/>
<circle cx="594.0" cy="335.7" r="2.05"/>
<circle cx="584.7" cy="341.7" r="2.05"/>
<circle cx="588.9" cy="345.2" r="2.05"/>
<circle cx="592.7" cy="345.2" r="2.05"/>
<circle cx="586.2" cy="354.2" r="2.05"/>
<circle cx="624.3" cy="362.6" r="2.05"/>
<circle cx="627.5" cy="362.4" r="2.05"/>
<circle cx="630.5" cy="362.2" r="2.05"/>
<circle cx="659.5" cy="363.0" r="2.05"/>
<circle cx="662.5" cy="362.4" r="2.05"/>
<circle cx="665.5" cy="362.6" r="2.05"/>
</g>
<text x="372.6" y="340.8" font-size="9.1" transform="rotate(-90 372.6 340.8)"><tspan font-style="italic">P</tspan>=0.1050</text>
<text x="408.5" y="340.8" font-size="9.1" transform="rotate(-90 408.5 340.8)"><tspan font-style="italic">P</tspan>=0.0968</text>
<text x="445.7" y="333.5" font-size="9.1" transform="rotate(-90 445.7 333.5)"><tspan font-style="italic">P</tspan>=0.1808</text>
<text x="481.6" y="340.8" font-size="9.1" transform="rotate(-90 481.6 340.8)"><tspan font-style="italic">P</tspan>=0.3193</text>
<text x="518.0" y="340.8" font-size="9.1" transform="rotate(-90 518.0 340.8)"><tspan font-style="italic">P</tspan>=0.5652</text>
<text x="554.1" y="340.8" font-size="9.1" transform="rotate(-90 554.1 340.8)"><tspan font-style="italic">P</tspan>=0.1104</text>
<text x="590.3" y="292.6" font-size="9.1" transform="rotate(-90 590.3 292.6)"><tspan font-style="italic">P</tspan>=0.0155</text>
<text x="626.8" y="340.7" font-size="9.1" transform="rotate(-90 626.8 340.7)"><tspan font-style="italic">P</tspan>=0.6183</text>
<text x="663.2" y="340.7" font-size="9.1" transform="rotate(-90 663.2 340.7)"><tspan font-style="italic">P</tspan>=0.7497</text>
<text x="321.7" y="241.4" font-size="9">n= 8</text>
<text x="372.8" y="241.4" font-size="9" text-anchor="middle">8</text>
<text x="409.0" y="241.4" font-size="9" text-anchor="middle">8</text>
<text x="445.2" y="241.4" font-size="9" text-anchor="middle">8</text>
<text x="481.5" y="241.4" font-size="9" text-anchor="middle">8</text>
<text x="517.7" y="241.4" font-size="9" text-anchor="middle">8</text>
<text x="554.3" y="241.4" font-size="9" text-anchor="middle">7</text>
<text x="590.4" y="241.4" font-size="9" text-anchor="middle">8</text>
<text x="626.0" y="241.4" font-size="9" text-anchor="middle">8</text>
<text x="662.4" y="241.4" font-size="9" text-anchor="middle">4</text>
<text x="-0.4" y="433.7" font-size="13" text-anchor="start" font-weight="bold">d</text>
<line x1="49.0" y1="450.0" x2="54.0" y2="450.0" stroke="#111" stroke-width="1.7"/>
<line x1="49.0" y1="477.2" x2="240.0" y2="477.2" stroke="#111" stroke-width="1.7"/>
<line x1="49.0" y1="503.3" x2="240.0" y2="503.3" stroke="#111" stroke-width="1.7"/>
<line x1="49.0" y1="529.2" x2="251.0" y2="529.2" stroke="#111" stroke-width="1.7"/>
<ellipse cx="38.0" cy="450.0" rx="11.0" ry="4.6" fill="#ee6a35"/>
<ellipse cx="38.0" cy="477.2" rx="11.0" ry="4.6" fill="#ee6a35"/>
<ellipse cx="38.0" cy="503.3" rx="11.0" ry="4.6" fill="#ee6a35"/>
<ellipse cx="38.0" cy="529.2" rx="11.0" ry="4.6" fill="#ee6a35"/>
<ellipse cx="98.9" cy="450.0" rx="46.1" ry="5.3" fill="#7ac043"/>
<text x="98.9" y="454.6" font-size="12.5" text-anchor="middle">GFP</text>
<text x="5.8" y="481.6" font-size="12.5" text-anchor="start" font-style="italic">Vd</text>
<text x="6.5" y="507.7" font-size="12.5" text-anchor="start" font-style="italic">Fo</text>
<text x="5.8" y="533.6" font-size="12.5" text-anchor="start" font-style="italic">Nc</text>
<rect x="53.0" y="471.7" width="39.6" height="11.0" rx="0.9" fill="#006835"/>
<rect x="106.7" y="471.7" width="41.6" height="11.0" rx="0.9" fill="#006835"/>
<rect x="154.8" y="471.7" width="22.2" height="11.0" rx="0.9" fill="#006835"/>
<rect x="187.0" y="471.7" width="53.9" height="11.0" rx="0.9" fill="#006835"/>
<rect x="55.25" y="471.7" width="2.7" height="11.0" fill="#29a9e0"/>
<rect x="126.05" y="471.7" width="2.7" height="11.0" fill="#29a9e0"/>
<rect x="145.15" y="471.7" width="2.7" height="11.0" fill="#29a9e0"/>
<rect x="173.65" y="471.7" width="2.7" height="11.0" fill="#29a9e0"/>
<rect x="187.35" y="471.7" width="2.7" height="11.0" fill="#29a9e0"/>
<rect x="212.75" y="471.7" width="2.7" height="11.0" fill="#29a9e0"/>
<rect x="53.0" y="497.8" width="39.6" height="11.0" rx="0.9" fill="#b9ad96"/>
<rect x="106.7" y="497.8" width="41.6" height="11.0" rx="0.9" fill="#b9ad96"/>
<rect x="154.8" y="497.8" width="22.2" height="11.0" rx="0.9" fill="#b9ad96"/>
<rect x="187.0" y="497.8" width="53.9" height="11.0" rx="0.9" fill="#b9ad96"/>
<rect x="55.25" y="497.8" width="2.7" height="11.0" fill="#29a9e0"/>
<rect x="126.05" y="497.8" width="2.7" height="11.0" fill="#29a9e0"/>
<rect x="145.15" y="497.8" width="2.7" height="11.0" fill="#29a9e0"/>
<rect x="173.65" y="497.8" width="2.7" height="11.0" fill="#29a9e0"/>
<rect x="187.35" y="497.8" width="2.7" height="11.0" fill="#29a9e0"/>
<rect x="212.75" y="497.8" width="2.7" height="11.0" fill="#29a9e0"/>
<rect x="65.7" y="523.8" width="40.2" height="10.9" rx="0.8" fill="#e9e53a" stroke="#3a3a28" stroke-width="0.8"/>
<rect x="116.3" y="523.8" width="41.1" height="10.9" rx="0.8" fill="#e9e53a" stroke="#3a3a28" stroke-width="0.8"/>
<rect x="161.7" y="523.8" width="22.6" height="10.9" rx="0.8" fill="#e9e53a" stroke="#3a3a28" stroke-width="0.8"/>
<rect x="197.8" y="523.8" width="54.2" height="10.9" rx="0.8" fill="#e9e53a" stroke="#3a3a28" stroke-width="0.8"/>
<rect x="68.55" y="524.0" width="2.7" height="10.4" fill="#29a9e0"/>
<rect x="135.65" y="524.0" width="2.7" height="10.4" fill="#29a9e0"/>
<rect x="154.55" y="524.0" width="2.7" height="10.4" fill="#29a9e0"/>
<rect x="181.05" y="524.0" width="2.7" height="10.4" fill="#29a9e0"/>
<rect x="198.45" y="524.0" width="2.7" height="10.4" fill="#29a9e0"/>
<rect x="223.85" y="524.0" width="2.7" height="10.4" fill="#29a9e0"/>
<ellipse cx="117.3" cy="553.4" rx="11.1" ry="4.7" fill="#ee6a35"/>
<rect x="107.3" y="565.0" width="19.8" height="10.7" fill="#006835"/>
<rect x="115.9" y="582.3" width="2.3" height="10.0" fill="#29a9e0"/>
<text x="136.0" y="557.2" font-size="12.8" text-anchor="start">Signal peptide</text>
<text x="136.0" y="573.7" font-size="12.8" text-anchor="start">Homologous region</text>
<text x="136.0" y="590.3" font-size="12.8" text-anchor="start">Cysteine</text>
<text x="285.0" y="431.6" font-size="13" text-anchor="start" font-weight="bold">e</text>
<rect x="327.4" y="452.5" width="100.6" height="129.7" fill="none" stroke="#3a3a3a" stroke-width="0.8"/>
<rect x="436.3" y="452.5" width="98.4" height="129.7" fill="none" stroke="#3a3a3a" stroke-width="0.8"/>
<rect x="542.9" y="452.5" width="97.8" height="129.7" fill="none" stroke="#3a3a3a" stroke-width="0.8"/>
<line x1="324.4" y1="452.5" x2="327.4" y2="452.5" stroke="#3a3a3a" stroke-width="0.8"/>
<text x="323.9" y="456.6" font-size="13.0" text-anchor="end">30</text>
<line x1="324.4" y1="495.7" x2="327.4" y2="495.7" stroke="#3a3a3a" stroke-width="0.8"/>
<text x="323.9" y="499.8" font-size="13.0" text-anchor="end">20</text>
<line x1="324.4" y1="539.0" x2="327.4" y2="539.0" stroke="#3a3a3a" stroke-width="0.8"/>
<text x="323.9" y="543.1" font-size="13.0" text-anchor="end">10</text>
<line x1="324.4" y1="582.2" x2="327.4" y2="582.2" stroke="#3a3a3a" stroke-width="0.8"/>
<text x="323.9" y="586.3" font-size="13.0" text-anchor="end">0</text>
<text x="305.0" y="517.0" font-size="12.8" text-anchor="middle" transform="rotate(-90 305.0 517.0)">Ethylene (pmol/ml)</text>
<text x="376.0" y="447.6" font-size="12.5" text-anchor="middle">mock</text>
<text x="486.9" y="446.0" font-size="12.5" text-anchor="middle">flg22</text>
<text x="590.4" y="447.7" font-size="12.5" text-anchor="middle">PEN</text>
<rect x="333.8" y="580.8" width="16.6" height="1.4" fill="#fff" stroke="#333" stroke-width="0.8"/>
<line x1="342.1" y1="582.2" x2="342.1" y2="585.2" stroke="#3a3a3a" stroke-width="0.8"/>
<text x="342.1" y="597.4" font-size="12.8" text-anchor="middle">GFP</text>
<rect x="357.4" y="579.3" width="16.6" height="2.9" fill="#fff" stroke="#333" stroke-width="0.8"/>
<line x1="365.7" y1="582.2" x2="365.7" y2="585.2" stroke="#3a3a3a" stroke-width="0.8"/>
<text x="365.7" y="597.4" font-size="12.8" text-anchor="middle" font-style="italic">Vd</text>
<rect x="380.3" y="580.8" width="16.6" height="1.4" fill="#fff" stroke="#333" stroke-width="0.8"/>
<line x1="388.6" y1="582.2" x2="388.6" y2="585.2" stroke="#3a3a3a" stroke-width="0.8"/>
<text x="388.6" y="597.4" font-size="12.8" text-anchor="middle" font-style="italic">Fo</text>
<rect x="403.2" y="580.2" width="16.6" height="2.0" fill="#fff" stroke="#333" stroke-width="0.8"/>
<line x1="411.5" y1="582.2" x2="411.5" y2="585.2" stroke="#3a3a3a" stroke-width="0.8"/>
<text x="411.5" y="597.4" font-size="12.8" text-anchor="middle" font-style="italic">Nc</text>
<rect x="442.3" y="574.5" width="16.6" height="7.7" fill="#fff" stroke="#333" stroke-width="0.8"/>
<line x1="450.6" y1="582.2" x2="450.6" y2="585.2" stroke="#3a3a3a" stroke-width="0.8"/>
<text x="450.6" y="597.4" font-size="12.8" text-anchor="middle">GFP</text>
<rect x="465.3" y="580.1" width="16.6" height="2.1" fill="#fff" stroke="#333" stroke-width="0.8"/>
<line x1="473.6" y1="582.2" x2="473.6" y2="585.2" stroke="#3a3a3a" stroke-width="0.8"/>
<text x="473.6" y="597.4" font-size="12.8" text-anchor="middle" font-style="italic">Vd</text>
<rect x="488.4" y="572.5" width="16.6" height="9.7" fill="#fff" stroke="#333" stroke-width="0.8"/>
<line x1="496.7" y1="582.2" x2="496.7" y2="585.2" stroke="#3a3a3a" stroke-width="0.8"/>
<text x="496.7" y="597.4" font-size="12.8" text-anchor="middle" font-style="italic">Fo</text>
<rect x="511.5" y="573.7" width="16.6" height="8.5" fill="#fff" stroke="#333" stroke-width="0.8"/>
<line x1="519.8" y1="582.2" x2="519.8" y2="585.2" stroke="#3a3a3a" stroke-width="0.8"/>
<text x="519.8" y="597.4" font-size="12.8" text-anchor="middle" font-style="italic">Nc</text>
<rect x="548.7" y="523.3" width="16.6" height="58.9" fill="#fff" stroke="#333" stroke-width="0.8"/>
<line x1="557.0" y1="582.2" x2="557.0" y2="585.2" stroke="#3a3a3a" stroke-width="0.8"/>
<text x="557.0" y="597.4" font-size="12.8" text-anchor="middle">GFP</text>
<rect x="571.7" y="579.0" width="16.6" height="3.2" fill="#fff" stroke="#333" stroke-width="0.8"/>
<line x1="580.0" y1="582.2" x2="580.0" y2="585.2" stroke="#3a3a3a" stroke-width="0.8"/>
<text x="580.0" y="597.4" font-size="12.8" text-anchor="middle" font-style="italic">Vd</text>
<rect x="594.7" y="530.1" width="16.6" height="52.1" fill="#fff" stroke="#333" stroke-width="0.8"/>
<line x1="603.0" y1="582.2" x2="603.0" y2="585.2" stroke="#3a3a3a" stroke-width="0.8"/>
<text x="603.0" y="597.4" font-size="12.8" text-anchor="middle" font-style="italic">Fo</text>
<rect x="617.8" y="531.8" width="16.6" height="50.4" fill="#fff" stroke="#333" stroke-width="0.8"/>
<line x1="626.1" y1="582.2" x2="626.1" y2="585.2" stroke="#3a3a3a" stroke-width="0.8"/>
<text x="626.1" y="597.4" font-size="12.8" text-anchor="middle" font-style="italic">Nc</text>
<line x1="557.0" y1="516.5" x2="557.0" y2="530.3" stroke="#5a5a5a" stroke-width="0.9"/>
<line x1="555.5" y1="516.5" x2="558.5" y2="516.5" stroke="#5a5a5a" stroke-width="0.7"/>
<line x1="555.5" y1="530.3" x2="558.5" y2="530.3" stroke="#5a5a5a" stroke-width="0.7"/>
<line x1="603.3" y1="524.5" x2="603.3" y2="535.5" stroke="#5a5a5a" stroke-width="0.9"/>
<line x1="601.8" y1="524.5" x2="604.8" y2="524.5" stroke="#5a5a5a" stroke-width="0.7"/>
<line x1="601.8" y1="535.5" x2="604.8" y2="535.5" stroke="#5a5a5a" stroke-width="0.7"/>
<line x1="626.2" y1="526.5" x2="626.2" y2="537.0" stroke="#5a5a5a" stroke-width="0.9"/>
<line x1="624.7" y1="526.5" x2="627.7" y2="526.5" stroke="#5a5a5a" stroke-width="0.7"/>
<line x1="624.7" y1="537.0" x2="627.7" y2="537.0" stroke="#5a5a5a" stroke-width="0.7"/>
<clipPath id="ce"><rect x="327" y="452" width="102" height="130.0"/></clipPath><g clip-path="url(#ce)">
<circle cx="341.4" cy="581.0" r="2.0"/>
<circle cx="342.8" cy="580.9" r="2.0"/>
<circle cx="342.1" cy="580.6" r="2.0"/>
<circle cx="365.0" cy="580.0" r="2.0"/>
<circle cx="366.3" cy="580.1" r="2.0"/>
<circle cx="365.6" cy="579.6" r="2.0"/>
<circle cx="387.8" cy="580.8" r="2.0"/>
<circle cx="389.1" cy="580.8" r="2.0"/>
<circle cx="388.4" cy="580.4" r="2.0"/>
<circle cx="410.6" cy="580.4" r="2.0"/>
<circle cx="411.9" cy="580.5" r="2.0"/>
<circle cx="411.2" cy="580.0" r="2.0"/>
</g>
<circle cx="450.1" cy="573.4" r="1.9"/>
<circle cx="450.4" cy="575.3" r="1.9"/>
<circle cx="450.9" cy="576.7" r="1.9"/>
<circle cx="473.4" cy="579.8" r="1.9"/>
<circle cx="474.3" cy="580.2" r="1.9"/>
<circle cx="473.8" cy="579.4" r="1.9"/>
<circle cx="496.7" cy="572.0" r="1.9"/>
<circle cx="496.2" cy="573.4" r="1.9"/>
<circle cx="519.8" cy="572.5" r="1.9"/>
<circle cx="519.2" cy="575.1" r="1.9"/>
<circle cx="519.8" cy="577.3" r="1.9"/>
<circle cx="556.9" cy="494.1" r="1.9"/>
<circle cx="556.4" cy="520.5" r="1.9"/>
<circle cx="557.3" cy="522.8" r="1.9"/>
<circle cx="557.5" cy="529.0" r="1.9"/>
<circle cx="556.6" cy="534.0" r="1.9"/>
<circle cx="557.5" cy="540.5" r="1.9"/>
<circle cx="580.8" cy="578.5" r="1.9"/>
<circle cx="579.9" cy="579.3" r="1.9"/>
<circle cx="580.6" cy="579.6" r="1.9"/>
<circle cx="603.6" cy="510.4" r="1.9"/>
<circle cx="603.3" cy="523.6" r="1.9"/>
<circle cx="603.6" cy="527.0" r="1.9"/>
<circle cx="603.6" cy="535.7" r="1.9"/>
<circle cx="603.3" cy="540.2" r="1.9"/>
<circle cx="603.9" cy="543.9" r="1.9"/>
<circle cx="626.4" cy="515.5" r="1.9"/>
<circle cx="626.1" cy="520.8" r="1.9"/>
<circle cx="625.8" cy="531.2" r="1.9"/>
<circle cx="626.4" cy="534.0" r="1.9"/>
<circle cx="626.6" cy="535.7" r="1.9"/>
<circle cx="626.6" cy="554.8" r="1.9"/>
<text x="365.7" y="566.3" font-size="9.2" transform="rotate(-90 365.7 566.3)"><tspan font-style="italic">P</tspan>=0.0195</text>
<text x="387.8" y="566.3" font-size="9.2" transform="rotate(-90 387.8 566.3)"><tspan font-style="italic">P</tspan>=0.1287</text>
<text x="411.4" y="566.3" font-size="9.2" transform="rotate(-90 411.4 566.3)"><tspan font-style="italic">P</tspan>=0.0190</text>
<text x="473.3" y="563.6" font-size="9.2" transform="rotate(-90 473.3 563.6)"><tspan font-style="italic">P</tspan>&lt;0.0001</text>
<text x="496.2" y="553.5" font-size="9.2" transform="rotate(-90 496.2 553.5)"><tspan font-style="italic">P</tspan>=0.0252</text>
<text x="519.6" y="553.5" font-size="9.2" transform="rotate(-90 519.6 553.5)"><tspan font-style="italic">P</tspan>=0.4100</text>
<text x="579.9" y="562.4" font-size="9.2" transform="rotate(-90 579.9 562.4)"><tspan font-style="italic">P</tspan>=0.0004</text>
<text x="603.5" y="499.0" font-size="9.2" transform="rotate(-90 603.5 499.0)"><tspan font-style="italic">P</tspan>=0.4416</text>
<text x="626.9" y="499.0" font-size="9.2" transform="rotate(-90 626.9 499.0)"><tspan font-style="italic">P</tspan>=0.3530</text>
</svg>
</body>
</html>
